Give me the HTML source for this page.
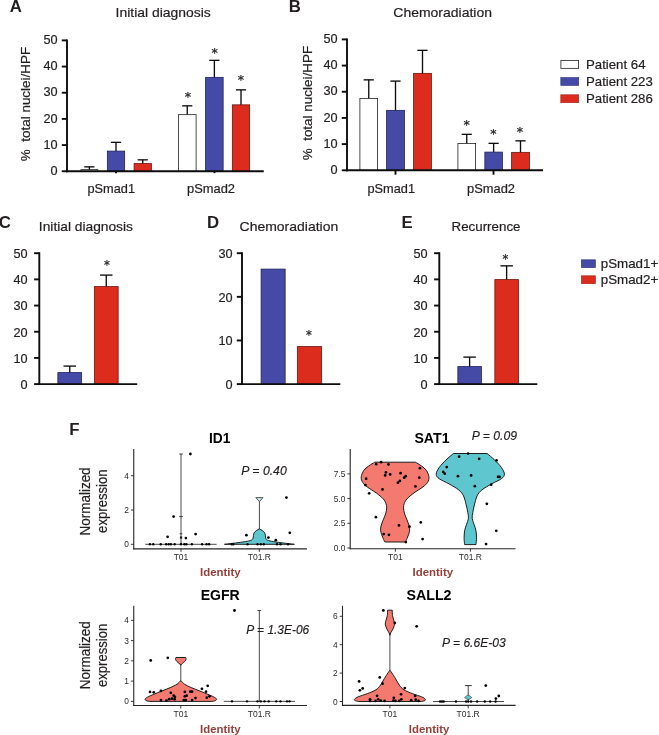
<!DOCTYPE html>
<html><head><meta charset="utf-8"><title>Figure</title>
<style>
html,body{margin:0;padding:0;background:#fff;}
body{width:659px;height:735px;overflow:hidden;}
svg{display:block;font-family:"Liberation Sans",Arial,Helvetica,sans-serif;}
</style></head><body>
<svg width="659" height="735" viewBox="0 0 659 735">
<rect width="659" height="735" fill="#fff"/>
<g fill="#231F20">
<text x="9.7" y="11.7" font-size="16.8" font-weight="bold" fill="#231F20">A</text>
<text x="115.6" y="17.45" font-size="13.6" fill="#231F20" textLength="95.1" lengthAdjust="spacingAndGlyphs" stroke="#231F20" stroke-width="0.2">Initial diagnosis</text>
<text x="29.799999999999997" y="161.25" font-size="12.6" fill="#231F20" textLength="114.5" lengthAdjust="spacingAndGlyphs" transform="rotate(-90 29.799999999999997 161.25)" stroke="#231F20" stroke-width="0.2">%&#160; total nuclei/HPF</text>
<line x1="89.375" y1="166.85" x2="89.375" y2="170.25" stroke="#0d0d0d" stroke-width="1.35" stroke-linecap="butt"/>
<line x1="84.275" y1="166.85" x2="94.475" y2="166.85" stroke="#0d0d0d" stroke-width="1.35" stroke-linecap="butt"/>
<rect x="80.9" y="169.65" width="16.95" height="1.6" fill="#fff" stroke="#222" stroke-width="0.8"/>
<line x1="116.0" y1="142.35" x2="116.0" y2="151.75" stroke="#0d0d0d" stroke-width="1.35" stroke-linecap="butt"/>
<line x1="110.9" y1="142.35" x2="121.1" y2="142.35" stroke="#0d0d0d" stroke-width="1.35" stroke-linecap="butt"/>
<rect x="107.35" y="151.1" width="17.3" height="20.15" fill="#454AA6" stroke="#1f2260" stroke-width="0.8"/>
<line x1="142.75" y1="159.85" x2="142.75" y2="164.25" stroke="#0d0d0d" stroke-width="1.35" stroke-linecap="butt"/>
<line x1="137.65" y1="159.85" x2="147.85" y2="159.85" stroke="#0d0d0d" stroke-width="1.35" stroke-linecap="butt"/>
<rect x="134.1" y="163.6" width="17.3" height="7.65" fill="#DC2C1E" stroke="#6b140c" stroke-width="0.8"/>
<line x1="187.25" y1="105.85" x2="187.25" y2="115.25" stroke="#0d0d0d" stroke-width="1.35" stroke-linecap="butt"/>
<line x1="182.15" y1="105.85" x2="192.35" y2="105.85" stroke="#0d0d0d" stroke-width="1.35" stroke-linecap="butt"/>
<rect x="178.4" y="114.65" width="17.7" height="56.6" fill="#fff" stroke="#222" stroke-width="0.8"/>
<line x1="214.375" y1="60.35" x2="214.375" y2="78" stroke="#0d0d0d" stroke-width="1.35" stroke-linecap="butt"/>
<line x1="209.275" y1="60.35" x2="219.475" y2="60.35" stroke="#0d0d0d" stroke-width="1.35" stroke-linecap="butt"/>
<rect x="205.6" y="77.35" width="17.55" height="93.9" fill="#454AA6" stroke="#1f2260" stroke-width="0.8"/>
<line x1="241.0" y1="89.85" x2="241.0" y2="105.5" stroke="#0d0d0d" stroke-width="1.35" stroke-linecap="butt"/>
<line x1="235.9" y1="89.85" x2="246.1" y2="89.85" stroke="#0d0d0d" stroke-width="1.35" stroke-linecap="butt"/>
<rect x="232.35" y="104.85" width="17.3" height="66.4" fill="#DC2C1E" stroke="#6b140c" stroke-width="0.8"/>
<line x1="67" y1="39.449999999999996" x2="67" y2="172.2" stroke="#0d0d0d" stroke-width="1.9" stroke-linecap="butt"/>
<line x1="61.8" y1="171.25" x2="67" y2="171.25" stroke="#0d0d0d" stroke-width="1.9" stroke-linecap="butt"/>
<text x="57.5" y="174.95" font-size="12.7" text-anchor="end" fill="#231F20" stroke="#231F20" stroke-width="0.2">0</text>
<line x1="61.8" y1="145.07999999999998" x2="67" y2="145.07999999999998" stroke="#0d0d0d" stroke-width="1.9" stroke-linecap="butt"/>
<text x="57.5" y="148.77999999999997" font-size="12.7" text-anchor="end" fill="#231F20" stroke="#231F20" stroke-width="0.2">10</text>
<line x1="61.8" y1="118.91" x2="67" y2="118.91" stroke="#0d0d0d" stroke-width="1.9" stroke-linecap="butt"/>
<text x="57.5" y="122.61" font-size="12.7" text-anchor="end" fill="#231F20" stroke="#231F20" stroke-width="0.2">20</text>
<line x1="61.8" y1="92.74" x2="67" y2="92.74" stroke="#0d0d0d" stroke-width="1.9" stroke-linecap="butt"/>
<text x="57.5" y="96.44" font-size="12.7" text-anchor="end" fill="#231F20" stroke="#231F20" stroke-width="0.2">30</text>
<line x1="61.8" y1="66.57" x2="67" y2="66.57" stroke="#0d0d0d" stroke-width="1.9" stroke-linecap="butt"/>
<text x="57.5" y="70.27" font-size="12.7" text-anchor="end" fill="#231F20" stroke="#231F20" stroke-width="0.2">40</text>
<line x1="61.8" y1="40.400000000000006" x2="67" y2="40.400000000000006" stroke="#0d0d0d" stroke-width="1.9" stroke-linecap="butt"/>
<text x="57.5" y="44.10000000000001" font-size="12.7" text-anchor="end" fill="#231F20" stroke="#231F20" stroke-width="0.2">50</text>
<line x1="66.05" y1="171.25" x2="263.75" y2="171.25" stroke="#0d0d0d" stroke-width="1.9" stroke-linecap="butt"/>
<line x1="116" y1="171.25" x2="116" y2="173.15" stroke="#0d0d0d" stroke-width="1.9" stroke-linecap="butt"/>
<line x1="214.5" y1="171.25" x2="214.5" y2="173.15" stroke="#0d0d0d" stroke-width="1.9" stroke-linecap="butt"/>
<text x="188" y="101.45949999999999" font-size="12.7" text-anchor="middle" font-family="DejaVu Sans, sans-serif" fill="#231F20" stroke="#231F20" stroke-width="0.25">*</text>
<text x="214.75" y="57.2595" font-size="12.7" text-anchor="middle" font-family="DejaVu Sans, sans-serif" fill="#231F20" stroke="#231F20" stroke-width="0.25">*</text>
<text x="240.9" y="84.3595" font-size="12.7" text-anchor="middle" font-family="DejaVu Sans, sans-serif" fill="#231F20" stroke="#231F20" stroke-width="0.25">*</text>
<text x="87.5" y="193" font-size="12.6" fill="#231F20" textLength="47.5" lengthAdjust="spacingAndGlyphs" stroke="#231F20" stroke-width="0.2">pSmad1</text>
<text x="187" y="193" font-size="12.6" fill="#231F20" textLength="48" lengthAdjust="spacingAndGlyphs" stroke="#231F20" stroke-width="0.2">pSmad2</text>
<text x="288.7" y="11.7" font-size="16.8" font-weight="bold" fill="#231F20">B</text>
<text x="393.35" y="17.45" font-size="13.6" fill="#231F20" textLength="98.6" lengthAdjust="spacingAndGlyphs" stroke="#231F20" stroke-width="0.2">Chemoradiation</text>
<text x="312.4" y="160.3" font-size="12.6" fill="#231F20" textLength="114.5" lengthAdjust="spacingAndGlyphs" transform="rotate(-90 312.4 160.3)" stroke="#231F20" stroke-width="0.2">%&#160; total nuclei/HPF</text>
<line x1="368.75" y1="79.85" x2="368.75" y2="99" stroke="#0d0d0d" stroke-width="1.35" stroke-linecap="butt"/>
<line x1="363.65" y1="79.85" x2="373.85" y2="79.85" stroke="#0d0d0d" stroke-width="1.35" stroke-linecap="butt"/>
<rect x="359.9" y="98.4" width="17.7" height="71.9" fill="#fff" stroke="#222" stroke-width="0.8"/>
<line x1="395.5" y1="81.1" x2="395.5" y2="111" stroke="#0d0d0d" stroke-width="1.35" stroke-linecap="butt"/>
<line x1="390.4" y1="81.1" x2="400.6" y2="81.1" stroke="#0d0d0d" stroke-width="1.35" stroke-linecap="butt"/>
<rect x="386.6" y="110.35" width="17.8" height="59.95000000000001" fill="#454AA6" stroke="#1f2260" stroke-width="0.8"/>
<line x1="422.5" y1="50.35" x2="422.5" y2="74" stroke="#0d0d0d" stroke-width="1.35" stroke-linecap="butt"/>
<line x1="417.4" y1="50.35" x2="427.6" y2="50.35" stroke="#0d0d0d" stroke-width="1.35" stroke-linecap="butt"/>
<rect x="413.6" y="73.35" width="17.8" height="96.95000000000002" fill="#DC2C1E" stroke="#6b140c" stroke-width="0.8"/>
<line x1="466.75" y1="134.35" x2="466.75" y2="144" stroke="#0d0d0d" stroke-width="1.35" stroke-linecap="butt"/>
<line x1="461.65" y1="134.35" x2="471.85" y2="134.35" stroke="#0d0d0d" stroke-width="1.35" stroke-linecap="butt"/>
<rect x="457.9" y="143.4" width="17.7" height="26.900000000000013" fill="#fff" stroke="#222" stroke-width="0.8"/>
<line x1="493.625" y1="143.35" x2="493.625" y2="152.75" stroke="#0d0d0d" stroke-width="1.35" stroke-linecap="butt"/>
<line x1="488.525" y1="143.35" x2="498.725" y2="143.35" stroke="#0d0d0d" stroke-width="1.35" stroke-linecap="butt"/>
<rect x="484.85" y="152.1" width="17.55" height="18.20000000000001" fill="#454AA6" stroke="#1f2260" stroke-width="0.8"/>
<line x1="520.5" y1="140.85" x2="520.5" y2="153" stroke="#0d0d0d" stroke-width="1.35" stroke-linecap="butt"/>
<line x1="515.4" y1="140.85" x2="525.6" y2="140.85" stroke="#0d0d0d" stroke-width="1.35" stroke-linecap="butt"/>
<rect x="511.6" y="152.35" width="17.8" height="17.95000000000001" fill="#DC2C1E" stroke="#6b140c" stroke-width="0.8"/>
<line x1="347" y1="38.449999999999996" x2="347" y2="171.25" stroke="#0d0d0d" stroke-width="1.9" stroke-linecap="butt"/>
<line x1="341.8" y1="170.3" x2="347" y2="170.3" stroke="#0d0d0d" stroke-width="1.9" stroke-linecap="butt"/>
<text x="337.5" y="174.0" font-size="12.7" text-anchor="end" fill="#231F20" stroke="#231F20" stroke-width="0.2">0</text>
<line x1="341.8" y1="144.12" x2="347" y2="144.12" stroke="#0d0d0d" stroke-width="1.9" stroke-linecap="butt"/>
<text x="337.5" y="147.82" font-size="12.7" text-anchor="end" fill="#231F20" stroke="#231F20" stroke-width="0.2">10</text>
<line x1="341.8" y1="117.94" x2="347" y2="117.94" stroke="#0d0d0d" stroke-width="1.9" stroke-linecap="butt"/>
<text x="337.5" y="121.64" font-size="12.7" text-anchor="end" fill="#231F20" stroke="#231F20" stroke-width="0.2">20</text>
<line x1="341.8" y1="91.76" x2="347" y2="91.76" stroke="#0d0d0d" stroke-width="1.9" stroke-linecap="butt"/>
<text x="337.5" y="95.46000000000001" font-size="12.7" text-anchor="end" fill="#231F20" stroke="#231F20" stroke-width="0.2">30</text>
<line x1="341.8" y1="65.58" x2="347" y2="65.58" stroke="#0d0d0d" stroke-width="1.9" stroke-linecap="butt"/>
<text x="337.5" y="69.28" font-size="12.7" text-anchor="end" fill="#231F20" stroke="#231F20" stroke-width="0.2">40</text>
<line x1="341.8" y1="39.400000000000006" x2="347" y2="39.400000000000006" stroke="#0d0d0d" stroke-width="1.9" stroke-linecap="butt"/>
<text x="337.5" y="43.10000000000001" font-size="12.7" text-anchor="end" fill="#231F20" stroke="#231F20" stroke-width="0.2">50</text>
<line x1="346.05" y1="170.3" x2="543" y2="170.3" stroke="#0d0d0d" stroke-width="1.9" stroke-linecap="butt"/>
<line x1="395.5" y1="170.3" x2="395.5" y2="174.70000000000002" stroke="#0d0d0d" stroke-width="1.9" stroke-linecap="butt"/>
<line x1="493.5" y1="170.3" x2="493.5" y2="174.70000000000002" stroke="#0d0d0d" stroke-width="1.9" stroke-linecap="butt"/>
<text x="466.6" y="129.1595" font-size="12.7" text-anchor="middle" font-family="DejaVu Sans, sans-serif" fill="#231F20" stroke="#231F20" stroke-width="0.25">*</text>
<text x="493.5" y="137.7595" font-size="12.7" text-anchor="middle" font-family="DejaVu Sans, sans-serif" fill="#231F20" stroke="#231F20" stroke-width="0.25">*</text>
<text x="520" y="135.7595" font-size="12.7" text-anchor="middle" font-family="DejaVu Sans, sans-serif" fill="#231F20" stroke="#231F20" stroke-width="0.25">*</text>
<text x="367.5" y="193" font-size="12.6" fill="#231F20" textLength="47.5" lengthAdjust="spacingAndGlyphs" stroke="#231F20" stroke-width="0.2">pSmad1</text>
<text x="467" y="193" font-size="12.6" fill="#231F20" textLength="48" lengthAdjust="spacingAndGlyphs" stroke="#231F20" stroke-width="0.2">pSmad2</text>
<rect x="560.9" y="60.4" width="17.7" height="7.95" fill="#fff" stroke="#222" stroke-width="0.8"/>
<text x="586" y="69.25" font-size="12.6" fill="#231F20" textLength="59.5" lengthAdjust="spacingAndGlyphs" stroke="#231F20" stroke-width="0.2">Patient 64</text>
<rect x="560.8" y="77.55" width="17.9" height="7.9" fill="#454AA6" stroke="#2E3280" stroke-width="0.6"/>
<text x="586" y="86.25" font-size="12.6" fill="#231F20" textLength="66.75" lengthAdjust="spacingAndGlyphs" stroke="#231F20" stroke-width="0.2">Patient 223</text>
<rect x="560.8" y="94.8" width="17.9" height="7.9" fill="#DC2C1E" stroke="#A81F14" stroke-width="0.6"/>
<text x="586" y="103.25" font-size="12.6" fill="#231F20" textLength="66.75" lengthAdjust="spacingAndGlyphs" stroke="#231F20" stroke-width="0.2">Patient 286</text>
<text x="-1.2" y="227.6" font-size="16.8" font-weight="bold" fill="#231F20">C</text>
<text x="38.85" y="231.2" font-size="13.6" fill="#231F20" textLength="94.1" lengthAdjust="spacingAndGlyphs" stroke="#231F20" stroke-width="0.2">Initial diagnosis</text>
<line x1="69.75" y1="366.1" x2="69.75" y2="373.25" stroke="#0d0d0d" stroke-width="1.35" stroke-linecap="butt"/>
<line x1="63.5" y1="366.1" x2="76.0" y2="366.1" stroke="#0d0d0d" stroke-width="1.35" stroke-linecap="butt"/>
<rect x="57.85" y="372.6" width="23.8" height="11.500000000000023" fill="#454AA6" stroke="#1f2260" stroke-width="0.8"/>
<line x1="106.25" y1="275.1" x2="106.25" y2="287.25" stroke="#0d0d0d" stroke-width="1.35" stroke-linecap="butt"/>
<line x1="100.0" y1="275.1" x2="112.5" y2="275.1" stroke="#0d0d0d" stroke-width="1.35" stroke-linecap="butt"/>
<rect x="94.35" y="286.6" width="23.8" height="97.50000000000003" fill="#DC2C1E" stroke="#6b140c" stroke-width="0.8"/>
<line x1="39.3" y1="252.25" x2="39.3" y2="385.05" stroke="#0d0d0d" stroke-width="1.9" stroke-linecap="butt"/>
<line x1="34.099999999999994" y1="384.1" x2="39.3" y2="384.1" stroke="#0d0d0d" stroke-width="1.9" stroke-linecap="butt"/>
<text x="27.599999999999998" y="388.90000000000003" font-size="12.7" text-anchor="end" fill="#231F20" stroke="#231F20" stroke-width="0.2">0</text>
<line x1="34.099999999999994" y1="357.92" x2="39.3" y2="357.92" stroke="#0d0d0d" stroke-width="1.9" stroke-linecap="butt"/>
<text x="27.599999999999998" y="362.72" font-size="12.7" text-anchor="end" fill="#231F20" stroke="#231F20" stroke-width="0.2">10</text>
<line x1="34.099999999999994" y1="331.74" x2="39.3" y2="331.74" stroke="#0d0d0d" stroke-width="1.9" stroke-linecap="butt"/>
<text x="27.599999999999998" y="336.54" font-size="12.7" text-anchor="end" fill="#231F20" stroke="#231F20" stroke-width="0.2">20</text>
<line x1="34.099999999999994" y1="305.56" x2="39.3" y2="305.56" stroke="#0d0d0d" stroke-width="1.9" stroke-linecap="butt"/>
<text x="27.599999999999998" y="310.36" font-size="12.7" text-anchor="end" fill="#231F20" stroke="#231F20" stroke-width="0.2">30</text>
<line x1="34.099999999999994" y1="279.38" x2="39.3" y2="279.38" stroke="#0d0d0d" stroke-width="1.9" stroke-linecap="butt"/>
<text x="27.599999999999998" y="284.18" font-size="12.7" text-anchor="end" fill="#231F20" stroke="#231F20" stroke-width="0.2">40</text>
<line x1="34.099999999999994" y1="253.2" x2="39.3" y2="253.2" stroke="#0d0d0d" stroke-width="1.9" stroke-linecap="butt"/>
<text x="27.599999999999998" y="258.0" font-size="12.7" text-anchor="end" fill="#231F20" stroke="#231F20" stroke-width="0.2">50</text>
<line x1="38.349999999999994" y1="384.1" x2="137.2" y2="384.1" stroke="#0d0d0d" stroke-width="1.9" stroke-linecap="butt"/>
<text x="107" y="269.126" font-size="11.6" text-anchor="middle" font-family="DejaVu Sans, sans-serif" fill="#231F20" stroke="#231F20" stroke-width="0.25">*</text>
<text x="207" y="227.6" font-size="16.8" font-weight="bold" fill="#231F20">D</text>
<text x="239.6" y="231.2" font-size="13.6" fill="#231F20" textLength="98.6" lengthAdjust="spacingAndGlyphs" stroke="#231F20" stroke-width="0.2">Chemoradiation</text>
<rect x="261.1" y="269.1" width="24.05" height="115.00000000000003" fill="#454AA6" stroke="#1f2260" stroke-width="0.8"/>
<rect x="297.35" y="346.6" width="24.3" height="37.50000000000002" fill="#DC2C1E" stroke="#6b140c" stroke-width="0.8"/>
<line x1="242" y1="252.25" x2="242" y2="385.05" stroke="#0d0d0d" stroke-width="1.9" stroke-linecap="butt"/>
<line x1="236.8" y1="384.1" x2="242" y2="384.1" stroke="#0d0d0d" stroke-width="1.9" stroke-linecap="butt"/>
<text x="232.6" y="388.90000000000003" font-size="12.7" text-anchor="end" fill="#231F20" stroke="#231F20" stroke-width="0.2">0</text>
<line x1="236.8" y1="340.4666666666667" x2="242" y2="340.4666666666667" stroke="#0d0d0d" stroke-width="1.9" stroke-linecap="butt"/>
<text x="232.6" y="345.2666666666667" font-size="12.7" text-anchor="end" fill="#231F20" stroke="#231F20" stroke-width="0.2">10</text>
<line x1="236.8" y1="296.83333333333337" x2="242" y2="296.83333333333337" stroke="#0d0d0d" stroke-width="1.9" stroke-linecap="butt"/>
<text x="232.6" y="301.6333333333334" font-size="12.7" text-anchor="end" fill="#231F20" stroke="#231F20" stroke-width="0.2">20</text>
<line x1="236.8" y1="253.2" x2="242" y2="253.2" stroke="#0d0d0d" stroke-width="1.9" stroke-linecap="butt"/>
<text x="232.6" y="258.0" font-size="12.7" text-anchor="end" fill="#231F20" stroke="#231F20" stroke-width="0.2">30</text>
<line x1="241.05" y1="384.1" x2="340.3" y2="384.1" stroke="#0d0d0d" stroke-width="1.9" stroke-linecap="butt"/>
<text x="309" y="339.426" font-size="11.6" text-anchor="middle" font-family="DejaVu Sans, sans-serif" fill="#231F20" stroke="#231F20" stroke-width="0.25">*</text>
<text x="401.5" y="227.6" font-size="16.8" font-weight="bold" fill="#231F20">E</text>
<text x="451.6" y="231.2" font-size="13.6" fill="#231F20" textLength="68.85" lengthAdjust="spacingAndGlyphs" stroke="#231F20" stroke-width="0.2">Recurrence</text>
<line x1="469.625" y1="357.1" x2="469.625" y2="367.25" stroke="#0d0d0d" stroke-width="1.35" stroke-linecap="butt"/>
<line x1="463.375" y1="357.1" x2="475.875" y2="357.1" stroke="#0d0d0d" stroke-width="1.35" stroke-linecap="butt"/>
<rect x="457.85" y="366.6" width="23.55" height="17.50000000000002" fill="#454AA6" stroke="#1f2260" stroke-width="0.8"/>
<line x1="506.625" y1="265.85" x2="506.625" y2="280.25" stroke="#0d0d0d" stroke-width="1.35" stroke-linecap="butt"/>
<line x1="500.375" y1="265.85" x2="512.875" y2="265.85" stroke="#0d0d0d" stroke-width="1.35" stroke-linecap="butt"/>
<rect x="494.85" y="279.6" width="23.55" height="104.50000000000003" fill="#DC2C1E" stroke="#6b140c" stroke-width="0.8"/>
<line x1="439.3" y1="252.25" x2="439.3" y2="385.05" stroke="#0d0d0d" stroke-width="1.9" stroke-linecap="butt"/>
<line x1="434.1" y1="384.1" x2="439.3" y2="384.1" stroke="#0d0d0d" stroke-width="1.9" stroke-linecap="butt"/>
<text x="427.6" y="388.90000000000003" font-size="12.7" text-anchor="end" fill="#231F20" stroke="#231F20" stroke-width="0.2">0</text>
<line x1="434.1" y1="357.92" x2="439.3" y2="357.92" stroke="#0d0d0d" stroke-width="1.9" stroke-linecap="butt"/>
<text x="427.6" y="362.72" font-size="12.7" text-anchor="end" fill="#231F20" stroke="#231F20" stroke-width="0.2">10</text>
<line x1="434.1" y1="331.74" x2="439.3" y2="331.74" stroke="#0d0d0d" stroke-width="1.9" stroke-linecap="butt"/>
<text x="427.6" y="336.54" font-size="12.7" text-anchor="end" fill="#231F20" stroke="#231F20" stroke-width="0.2">20</text>
<line x1="434.1" y1="305.56" x2="439.3" y2="305.56" stroke="#0d0d0d" stroke-width="1.9" stroke-linecap="butt"/>
<text x="427.6" y="310.36" font-size="12.7" text-anchor="end" fill="#231F20" stroke="#231F20" stroke-width="0.2">30</text>
<line x1="434.1" y1="279.38" x2="439.3" y2="279.38" stroke="#0d0d0d" stroke-width="1.9" stroke-linecap="butt"/>
<text x="427.6" y="284.18" font-size="12.7" text-anchor="end" fill="#231F20" stroke="#231F20" stroke-width="0.2">40</text>
<line x1="434.1" y1="253.2" x2="439.3" y2="253.2" stroke="#0d0d0d" stroke-width="1.9" stroke-linecap="butt"/>
<text x="427.6" y="258.0" font-size="12.7" text-anchor="end" fill="#231F20" stroke="#231F20" stroke-width="0.2">50</text>
<line x1="438.35" y1="384.1" x2="537.3" y2="384.1" stroke="#0d0d0d" stroke-width="1.9" stroke-linecap="butt"/>
<text x="505.5" y="262.926" font-size="11.6" text-anchor="middle" font-family="DejaVu Sans, sans-serif" fill="#231F20" stroke="#231F20" stroke-width="0.25">*</text>
<rect x="581.3" y="259.8" width="14.15" height="7.9" fill="#454AA6" stroke="#2E3280" stroke-width="0.6"/>
<text x="600.75" y="268" font-size="12.6" fill="#231F20" textLength="57.5" lengthAdjust="spacingAndGlyphs" stroke="#231F20" stroke-width="0.2">pSmad1+</text>
<rect x="581.3" y="275.8" width="14.15" height="7.9" fill="#DC2C1E" stroke="#A81F14" stroke-width="0.6"/>
<text x="600.75" y="283.75" font-size="12.6" fill="#231F20" textLength="57.5" lengthAdjust="spacingAndGlyphs" stroke="#231F20" stroke-width="0.2">pSmad2+</text>
<text x="69.3" y="434.6" font-size="16.8" font-weight="bold" fill="#231F20">F</text>
<text x="89.8" y="535.4" font-size="14" fill="#231F20" textLength="68" lengthAdjust="spacingAndGlyphs" transform="rotate(-90 89.8 535.4)" stroke="#231F20" stroke-width="0.2">Normalized</text>
<text x="106.9" y="532.9" font-size="14" fill="#231F20" textLength="63.5" lengthAdjust="spacingAndGlyphs" transform="rotate(-90 106.9 532.9)" stroke="#231F20" stroke-width="0.2">expression</text>
<line x1="133.75" y1="448.9" x2="133.75" y2="549.4499999999999" stroke="#262626" stroke-width="1.1" stroke-linecap="butt"/>
<line x1="133.2" y1="548.9" x2="307" y2="548.9" stroke="#262626" stroke-width="1.1" stroke-linecap="butt"/>
<line x1="130.95" y1="544.3" x2="133.75" y2="544.3" stroke="#262626" stroke-width="0.9" stroke-linecap="butt"/>
<text x="128.85" y="547.3" font-size="8.4" text-anchor="end" fill="#2b2b2b">0</text>
<line x1="130.95" y1="509.99999999999994" x2="133.75" y2="509.99999999999994" stroke="#262626" stroke-width="0.9" stroke-linecap="butt"/>
<text x="128.85" y="513.0" font-size="8.4" text-anchor="end" fill="#2b2b2b">2</text>
<line x1="130.95" y1="475.69999999999993" x2="133.75" y2="475.69999999999993" stroke="#262626" stroke-width="0.9" stroke-linecap="butt"/>
<text x="128.85" y="478.69999999999993" font-size="8.4" text-anchor="end" fill="#2b2b2b">4</text>
<line x1="181" y1="548.9" x2="181" y2="551.9" stroke="#262626" stroke-width="0.9" stroke-linecap="butt"/>
<text x="181" y="560.0" font-size="8.5" text-anchor="middle" fill="#2b2b2b">T01</text>
<line x1="259.3" y1="548.9" x2="259.3" y2="551.9" stroke="#262626" stroke-width="0.9" stroke-linecap="butt"/>
<text x="259.3" y="560.0" font-size="8.5" text-anchor="middle" fill="#2b2b2b">T01.R</text>
<text x="208.9" y="442.95" font-size="14.6" font-weight="bold" fill="#000" textLength="21.4" lengthAdjust="spacingAndGlyphs">ID1</text>
<text x="200" y="575.7" font-size="11.7" font-weight="bold" fill="#97403A" textLength="40.6" lengthAdjust="spacingAndGlyphs">Identity</text>
<line x1="145.2" y1="544.3" x2="216.6" y2="544.3" stroke="#1c1c1c" stroke-width="0.8" stroke-linecap="butt"/>
<line x1="181" y1="454" x2="181" y2="544.3" stroke="#1c1c1c" stroke-width="0.8" stroke-linecap="butt"/>
<line x1="179.2" y1="454" x2="182.8" y2="454" stroke="#1c1c1c" stroke-width="0.8" stroke-linecap="butt"/>
<line x1="179.2" y1="516.6" x2="182.8" y2="516.6" stroke="#1c1c1c" stroke-width="0.8" stroke-linecap="butt"/>
<line x1="179.6" y1="533.8" x2="182.4" y2="533.8" stroke="#1c1c1c" stroke-width="0.8" stroke-linecap="butt"/>
<line x1="259.4" y1="501.5" x2="259.4" y2="529.5" stroke="#1c1c1c" stroke-width="0.8" stroke-linecap="butt"/>
<path d="M255.79999999999998,497.6 L263.0,497.6 L259.4,501.7 Z" fill="#BFE6EA" stroke="#1c1c1c" stroke-width="0.7" stroke-linejoin="round"/>
<path d="M259.20,529.00 C258.73,529.27 257.23,529.97 256.40,530.60 C255.57,531.23 254.70,531.98 254.20,532.80 C253.70,533.62 253.60,534.58 253.40,535.50 C253.20,536.42 253.37,537.52 253.00,538.30 C252.63,539.08 252.47,539.65 251.20,540.20 C249.93,540.75 248.03,541.13 245.40,541.60 C242.77,542.07 238.40,542.60 235.40,543.00 C232.40,543.40 229.23,543.78 227.40,544.00 C225.57,544.22 224.90,544.25 224.40,544.30 L294.40,544.30 C293.90,544.25 293.23,544.22 291.40,544.00 C289.57,543.78 286.40,543.40 283.40,543.00 C280.40,542.60 276.03,542.07 273.40,541.60 C270.77,541.13 268.87,540.75 267.60,540.20 C266.33,539.65 266.17,539.08 265.80,538.30 C265.43,537.52 265.60,536.42 265.40,535.50 C265.20,534.58 265.10,533.62 264.60,532.80 C264.10,531.98 263.23,531.23 262.40,530.60 C261.57,529.97 260.07,529.27 259.60,529.00 Z" fill="#5EC6CF" fill-opacity="1" stroke="#141414" stroke-width="0.95" stroke-linejoin="round"/>
<circle cx="190.4" cy="454" r="1.38" fill="#000"/>
<circle cx="173.6" cy="516.6" r="1.38" fill="#000"/>
<circle cx="167.6" cy="536.8" r="1.38" fill="#000"/>
<circle cx="195.6" cy="534.1" r="1.38" fill="#000"/>
<circle cx="185.9" cy="538.1" r="1.38" fill="#000"/>
<rect x="179.9" y="536.4" width="2.3" height="2.3" fill="#222"/>
<circle cx="149.97005988023952" cy="544.3" r="1.2" fill="#000"/>
<circle cx="153.26347305389223" cy="544.3" r="1.2" fill="#000"/>
<circle cx="160.74850299401197" cy="544.3" r="1.2" fill="#000"/>
<circle cx="166.1377245508982" cy="544.3" r="1.2" fill="#000"/>
<circle cx="168.68263473053892" cy="544.3" r="1.2" fill="#000"/>
<circle cx="170.92814371257487" cy="544.3" r="1.2" fill="#000"/>
<circle cx="174.67065868263472" cy="544.3" r="1.2" fill="#000"/>
<circle cx="180.95808383233532" cy="544.3" r="1.2" fill="#000"/>
<circle cx="184.4011976047904" cy="544.3" r="1.2" fill="#000"/>
<circle cx="186.34730538922156" cy="544.3" r="1.2" fill="#000"/>
<circle cx="191.88622754491018" cy="544.3" r="1.2" fill="#000"/>
<circle cx="202.06586826347308" cy="544.3" r="1.2" fill="#000"/>
<circle cx="206.5568862275449" cy="544.3" r="1.2" fill="#000"/>
<circle cx="209.10179640718565" cy="544.3" r="1.2" fill="#000"/>
<circle cx="286.4" cy="497.6" r="1.38" fill="#000"/>
<circle cx="246.4" cy="535.2" r="1.38" fill="#000"/>
<circle cx="289.8" cy="532.8" r="1.38" fill="#000"/>
<circle cx="268.4" cy="537.6" r="1.38" fill="#000"/>
<circle cx="275.8" cy="540.2" r="1.38" fill="#000"/>
<circle cx="231.75" cy="544.3" r="1.2" fill="#000"/>
<circle cx="233.25" cy="544.3" r="1.2" fill="#000"/>
<circle cx="247.5" cy="544.3" r="1.2" fill="#000"/>
<circle cx="257.5" cy="544.3" r="1.2" fill="#000"/>
<circle cx="260.75" cy="544.3" r="1.2" fill="#000"/>
<circle cx="263.75" cy="544.3" r="1.2" fill="#000"/>
<circle cx="277.0" cy="544.3" r="1.2" fill="#000"/>
<circle cx="280.5" cy="544.3" r="1.2" fill="#000"/>
<circle cx="288.0" cy="544.3" r="1.2" fill="#000"/>
<text x="241.25" y="474.95" font-size="13.7" font-style="italic" fill="#231F20" textLength="45.5" lengthAdjust="spacingAndGlyphs" stroke="#231F20" stroke-width="0.18">P = 0.40</text>
<line x1="350.2" y1="448.9" x2="350.2" y2="549.25" stroke="#262626" stroke-width="1.1" stroke-linecap="butt"/>
<line x1="349.65" y1="548.7" x2="515.5" y2="548.7" stroke="#262626" stroke-width="1.1" stroke-linecap="butt"/>
<line x1="347.4" y1="548.0" x2="350.2" y2="548.0" stroke="#262626" stroke-width="0.9" stroke-linecap="butt"/>
<text x="345.3" y="551.0" font-size="8.4" text-anchor="end" fill="#2b2b2b">0.0</text>
<line x1="347.4" y1="523.3" x2="350.2" y2="523.3" stroke="#262626" stroke-width="0.9" stroke-linecap="butt"/>
<text x="345.3" y="526.3" font-size="8.4" text-anchor="end" fill="#2b2b2b">2.5</text>
<line x1="347.4" y1="498.6" x2="350.2" y2="498.6" stroke="#262626" stroke-width="0.9" stroke-linecap="butt"/>
<text x="345.3" y="501.6" font-size="8.4" text-anchor="end" fill="#2b2b2b">5.0</text>
<line x1="347.4" y1="473.9" x2="350.2" y2="473.9" stroke="#262626" stroke-width="0.9" stroke-linecap="butt"/>
<text x="345.3" y="476.9" font-size="8.4" text-anchor="end" fill="#2b2b2b">7.5</text>
<line x1="395.4" y1="548.7" x2="395.4" y2="551.7" stroke="#262626" stroke-width="0.9" stroke-linecap="butt"/>
<text x="395.4" y="559.8000000000001" font-size="8.5" text-anchor="middle" fill="#2b2b2b">T01</text>
<line x1="470.4" y1="548.7" x2="470.4" y2="551.7" stroke="#262626" stroke-width="0.9" stroke-linecap="butt"/>
<text x="470.4" y="559.8000000000001" font-size="8.5" text-anchor="middle" fill="#2b2b2b">T01.R</text>
<text x="414.4" y="442.95" font-size="14.6" font-weight="bold" fill="#000" textLength="35.15" lengthAdjust="spacingAndGlyphs">SAT1</text>
<text x="412.5" y="575.7" font-size="11.7" font-weight="bold" fill="#97403A" textLength="40.6" lengthAdjust="spacingAndGlyphs">Identity</text>
<path d="M374.70,462.20 C373.70,462.83 370.52,464.63 368.70,466.00 C366.88,467.37 365.05,468.53 363.80,470.40 C362.55,472.27 361.38,475.20 361.20,477.20 C361.02,479.20 361.70,480.78 362.70,482.40 C363.70,484.02 364.95,485.15 367.20,486.90 C369.45,488.65 373.53,490.90 376.20,492.90 C378.87,494.90 381.58,497.15 383.20,498.90 C384.82,500.65 385.32,501.90 385.90,503.40 C386.48,504.90 386.75,506.15 386.70,507.90 C386.65,509.65 386.18,511.90 385.60,513.90 C385.02,515.90 383.95,517.92 383.20,519.90 C382.45,521.88 381.53,524.07 381.10,525.80 C380.67,527.53 380.50,528.80 380.60,530.30 C380.70,531.80 381.27,533.42 381.70,534.80 C382.13,536.18 382.68,537.40 383.20,538.60 C383.72,539.80 384.53,541.43 384.80,542.00 L405.40,542.00 C405.67,541.43 406.48,539.80 407.00,538.60 C407.52,537.40 408.07,536.18 408.50,534.80 C408.93,533.42 409.50,531.80 409.60,530.30 C409.70,528.80 409.53,527.53 409.10,525.80 C408.67,524.07 407.75,521.88 407.00,519.90 C406.25,517.92 405.18,515.90 404.60,513.90 C404.02,511.90 403.55,509.65 403.50,507.90 C403.45,506.15 403.72,504.90 404.30,503.40 C404.88,501.90 405.38,500.65 407.00,498.90 C408.62,497.15 411.33,494.90 414.00,492.90 C416.67,490.90 420.75,488.65 423.00,486.90 C425.25,485.15 426.50,484.02 427.50,482.40 C428.50,480.78 429.18,479.20 429.00,477.20 C428.82,475.20 427.65,472.27 426.40,470.40 C425.15,468.53 423.32,467.37 421.50,466.00 C419.68,464.63 416.50,462.83 415.50,462.20 Z" fill="#F47A70" fill-opacity="1" stroke="#141414" stroke-width="0.95" stroke-linejoin="round"/>
<path d="M453.40,453.50 C452.17,454.58 448.37,457.67 446.00,460.00 C443.63,462.33 440.83,465.13 439.20,467.50 C437.57,469.87 436.20,472.33 436.20,474.20 C436.20,476.07 437.07,477.08 439.20,478.70 C441.33,480.32 445.75,482.03 449.00,483.90 C452.25,485.77 456.28,487.90 458.70,489.90 C461.12,491.90 462.25,493.40 463.50,495.90 C464.75,498.40 465.48,502.15 466.20,504.90 C466.92,507.65 467.43,510.15 467.80,512.40 C468.17,514.65 468.60,516.42 468.40,518.40 C468.20,520.38 467.22,522.32 466.60,524.30 C465.98,526.28 465.12,528.05 464.70,530.30 C464.28,532.55 464.12,535.42 464.10,537.80 C464.08,540.18 464.52,543.47 464.60,544.60 L476.00,544.60 C476.08,543.47 476.52,540.18 476.50,537.80 C476.48,535.42 476.32,532.55 475.90,530.30 C475.48,528.05 474.62,526.28 474.00,524.30 C473.38,522.32 472.40,520.38 472.20,518.40 C472.00,516.42 472.43,514.65 472.80,512.40 C473.17,510.15 473.68,507.65 474.40,504.90 C475.12,502.15 475.85,498.40 477.10,495.90 C478.35,493.40 479.48,491.90 481.90,489.90 C484.32,487.90 488.35,485.77 491.60,483.90 C494.85,482.03 499.27,480.32 501.40,478.70 C503.53,477.08 504.40,476.07 504.40,474.20 C504.40,472.33 503.03,469.87 501.40,467.50 C499.77,465.13 496.97,462.33 494.60,460.00 C492.23,457.67 488.43,454.58 487.20,453.50 Z" fill="#5EC6CF" fill-opacity="1" stroke="#141414" stroke-width="0.95" stroke-linejoin="round"/>
<circle cx="376.1976047904192" cy="464.1616766467066" r="1.38" fill="#000"/>
<circle cx="381.1377245508982" cy="462.21556886227546" r="1.38" fill="#000"/>
<circle cx="388.47305389221555" cy="464.4610778443114" r="1.38" fill="#000"/>
<circle cx="419.9101796407186" cy="468.20359281437123" r="1.38" fill="#000"/>
<circle cx="385.92814371257487" cy="472.39520958083835" r="1.38" fill="#000"/>
<circle cx="385.1796407185629" cy="475.38922155688624" r="1.38" fill="#000"/>
<circle cx="390.11976047904193" cy="474.49101796407183" r="1.38" fill="#000"/>
<circle cx="400.5988023952096" cy="473.1437125748503" r="1.38" fill="#000"/>
<circle cx="405.688622754491" cy="476.1377245508982" r="1.38" fill="#000"/>
<circle cx="404.19161676646706" cy="477.63473053892216" r="1.38" fill="#000"/>
<circle cx="399.8502994011976" cy="480.92814371257487" r="1.38" fill="#000"/>
<circle cx="397.90419161676647" cy="482.7245508982036" r="1.38" fill="#000"/>
<circle cx="366.16766467065867" cy="478.6826347305389" r="1.38" fill="#000"/>
<circle cx="419.311377245509" cy="477.63473053892216" r="1.38" fill="#000"/>
<circle cx="365.4191616766467" cy="485.11976047904193" r="1.38" fill="#000"/>
<circle cx="415.4191616766467" cy="486.4670658682635" r="1.38" fill="#000"/>
<circle cx="382.4850299401198" cy="489.4610778443114" r="1.38" fill="#000"/>
<circle cx="369.1616766467066" cy="493.3532934131737" r="1.38" fill="#000"/>
<circle cx="375.89820359281435" cy="517.1556886227545" r="1.38" fill="#000"/>
<circle cx="398.9520958083832" cy="525.3892215568862" r="1.38" fill="#000"/>
<circle cx="409.4311377245509" cy="526.7365269461078" r="1.38" fill="#000"/>
<circle cx="420.80838323353294" cy="522.3952095808384" r="1.38" fill="#000"/>
<circle cx="383.6826347305389" cy="534.0718562874251" r="1.38" fill="#000"/>
<circle cx="388.92215568862275" cy="534.8203592814372" r="1.38" fill="#000"/>
<circle cx="405.8383233532934" cy="542.0059880239521" r="1.38" fill="#000"/>
<circle cx="422.60479041916165" cy="539.0119760479042" r="1.38" fill="#000"/>
<circle cx="468.1137724550898" cy="453.5329341317365" r="1.38" fill="#000"/>
<circle cx="459.1317365269461" cy="456.67664670658684" r="1.38" fill="#000"/>
<circle cx="479.19161676646706" cy="458.77245508982037" r="1.38" fill="#000"/>
<circle cx="496.5568862275449" cy="460.4191616766467" r="1.38" fill="#000"/>
<circle cx="446.7065868263473" cy="467.0059880239521" r="1.38" fill="#000"/>
<circle cx="443.2634730538922" cy="471.94610778443115" r="1.38" fill="#000"/>
<circle cx="444.76047904191614" cy="473.74251497005986" r="1.38" fill="#000"/>
<circle cx="457.934131736527" cy="476.1377245508982" r="1.38" fill="#000"/>
<circle cx="471.1077844311377" cy="475.38922155688624" r="1.38" fill="#000"/>
<circle cx="498.05389221556885" cy="476.8862275449102" r="1.38" fill="#000"/>
<circle cx="499.55089820359285" cy="476.8862275449102" r="1.38" fill="#000"/>
<circle cx="474.8502994011976" cy="486.16766467065867" r="1.38" fill="#000"/>
<circle cx="491.16766467065867" cy="484.6706586826347" r="1.38" fill="#000"/>
<circle cx="486.8263473053892" cy="503.83233532934133" r="1.38" fill="#000"/>
<circle cx="496.25748502994014" cy="530.7784431137725" r="1.38" fill="#000"/>
<circle cx="486.07784431137725" cy="544.1017964071856" r="1.38" fill="#000"/>
<text x="471.75" y="440.2" font-size="13.7" font-style="italic" fill="#231F20" textLength="45.25" lengthAdjust="spacingAndGlyphs" stroke="#231F20" stroke-width="0.18">P = 0.09</text>
<text x="89.8" y="689.2" font-size="14" fill="#231F20" textLength="68" lengthAdjust="spacingAndGlyphs" transform="rotate(-90 89.8 689.2)" stroke="#231F20" stroke-width="0.2">Normalized</text>
<text x="106.9" y="687.1" font-size="14" fill="#231F20" textLength="63.5" lengthAdjust="spacingAndGlyphs" transform="rotate(-90 106.9 687.1)" stroke="#231F20" stroke-width="0.2">expression</text>
<line x1="133.75" y1="605.75" x2="133.75" y2="706.05" stroke="#262626" stroke-width="1.1" stroke-linecap="butt"/>
<line x1="133.2" y1="705.5" x2="307" y2="705.5" stroke="#262626" stroke-width="1.1" stroke-linecap="butt"/>
<line x1="130.95" y1="701.35" x2="133.75" y2="701.35" stroke="#262626" stroke-width="0.9" stroke-linecap="butt"/>
<text x="128.85" y="704.35" font-size="8.4" text-anchor="end" fill="#2b2b2b">0</text>
<line x1="130.95" y1="681.1" x2="133.75" y2="681.1" stroke="#262626" stroke-width="0.9" stroke-linecap="butt"/>
<text x="128.85" y="684.1" font-size="8.4" text-anchor="end" fill="#2b2b2b">1</text>
<line x1="130.95" y1="660.85" x2="133.75" y2="660.85" stroke="#262626" stroke-width="0.9" stroke-linecap="butt"/>
<text x="128.85" y="663.85" font-size="8.4" text-anchor="end" fill="#2b2b2b">2</text>
<line x1="130.95" y1="640.6" x2="133.75" y2="640.6" stroke="#262626" stroke-width="0.9" stroke-linecap="butt"/>
<text x="128.85" y="643.6" font-size="8.4" text-anchor="end" fill="#2b2b2b">3</text>
<line x1="130.95" y1="620.35" x2="133.75" y2="620.35" stroke="#262626" stroke-width="0.9" stroke-linecap="butt"/>
<text x="128.85" y="623.35" font-size="8.4" text-anchor="end" fill="#2b2b2b">4</text>
<line x1="180.8" y1="705.5" x2="180.8" y2="708.5" stroke="#262626" stroke-width="0.9" stroke-linecap="butt"/>
<text x="180.8" y="716.6" font-size="8.5" text-anchor="middle" fill="#2b2b2b">T01</text>
<line x1="259.3" y1="705.5" x2="259.3" y2="708.5" stroke="#262626" stroke-width="0.9" stroke-linecap="butt"/>
<text x="259.3" y="716.6" font-size="8.5" text-anchor="middle" fill="#2b2b2b">T01.R</text>
<text x="200.65" y="600.2" font-size="14.6" font-weight="bold" fill="#000" textLength="39.15" lengthAdjust="spacingAndGlyphs">EGFR</text>
<text x="200" y="732.7" font-size="11.7" font-weight="bold" fill="#97403A" textLength="40.6" lengthAdjust="spacingAndGlyphs">Identity</text>
<line x1="180.8" y1="664" x2="180.8" y2="681.5" stroke="#1c1c1c" stroke-width="0.8" stroke-linecap="butt"/>
<path d="M175.90,657.50 C175.84,657.68 175.53,658.12 175.55,658.60 C175.57,659.08 175.61,659.77 176.00,660.40 C176.39,661.03 177.25,661.80 177.90,662.40 C178.55,663.00 179.44,663.53 179.90,664.00 C180.36,664.47 180.53,665.00 180.65,665.20 L180.95,665.20 C181.08,665.00 181.24,664.47 181.70,664.00 C182.16,663.53 183.05,663.00 183.70,662.40 C184.35,661.80 185.21,661.03 185.60,660.40 C185.99,659.77 186.03,659.08 186.05,658.60 C186.07,658.12 185.76,657.68 185.70,657.50 Z" fill="#F47A70" fill-opacity="1" stroke="#141414" stroke-width="0.95" stroke-linejoin="round"/>
<path d="M180.60,680.80 C180.00,681.37 178.72,683.07 177.00,684.20 C175.28,685.33 172.83,686.47 170.30,687.60 C167.77,688.73 164.55,689.88 161.80,691.00 C159.05,692.12 156.07,693.33 153.80,694.30 C151.53,695.27 149.53,696.15 148.20,696.80 C146.87,697.45 146.32,697.78 145.80,698.20 C145.28,698.62 145.15,698.97 145.10,699.30 C145.05,699.63 145.18,699.93 145.50,700.20 C145.82,700.47 146.28,700.70 147.00,700.90 C147.72,701.10 149.33,701.32 149.80,701.40 L211.80,701.40 C212.27,701.32 213.88,701.10 214.60,700.90 C215.32,700.70 215.78,700.47 216.10,700.20 C216.42,699.93 216.55,699.63 216.50,699.30 C216.45,698.97 216.32,698.62 215.80,698.20 C215.28,697.78 214.73,697.45 213.40,696.80 C212.07,696.15 210.07,695.27 207.80,694.30 C205.53,693.33 202.55,692.12 199.80,691.00 C197.05,689.88 193.83,688.73 191.30,687.60 C188.77,686.47 186.32,685.33 184.60,684.20 C182.88,683.07 181.60,681.37 181.00,680.80 Z" fill="#F47A70" fill-opacity="1" stroke="#141414" stroke-width="0.95" stroke-linejoin="round"/>
<circle cx="150.71038251366122" cy="660.4918032786885" r="1.38" fill="#000"/>
<circle cx="167.78688524590163" cy="657.75956284153" r="1.38" fill="#000"/>
<circle cx="207.6775956284153" cy="685.7650273224044" r="1.38" fill="#000"/>
<circle cx="201.9398907103825" cy="688.7704918032787" r="1.38" fill="#000"/>
<circle cx="150.02732240437157" cy="691.9125683060109" r="1.38" fill="#000"/>
<circle cx="153.71584699453553" cy="692.3224043715848" r="1.38" fill="#000"/>
<circle cx="160.95628415300547" cy="690.9562841530054" r="1.38" fill="#000"/>
<circle cx="206.03825136612022" cy="691.639344262295" r="1.38" fill="#000"/>
<circle cx="170.79234972677597" cy="692.8688524590164" r="1.38" fill="#000"/>
<circle cx="184.86338797814207" cy="691.9125683060109" r="1.38" fill="#000"/>
<circle cx="190.327868852459" cy="691.639344262295" r="1.38" fill="#000"/>
<circle cx="192.10382513661202" cy="691.639344262295" r="1.38" fill="#000"/>
<circle cx="173.66120218579235" cy="695.7377049180328" r="1.38" fill="#000"/>
<circle cx="174.89071038251365" cy="696.9672131147541" r="1.38" fill="#000"/>
<circle cx="184.86338797814207" cy="696.2841530054645" r="1.38" fill="#000"/>
<circle cx="186.63934426229508" cy="695.7377049180328" r="1.38" fill="#000"/>
<circle cx="209.4535519125683" cy="696.2841530054645" r="1.38" fill="#000"/>
<circle cx="206.72131147540983" cy="697.6502732240438" r="1.38" fill="#000"/>
<circle cx="195.5191256830601" cy="698.0601092896175" r="1.38" fill="#000"/>
<circle cx="171.88524590163934" cy="698.7431693989071" r="1.38" fill="#000"/>
<circle cx="169.15300546448088" cy="699.1530054644809" r="1.38" fill="#000"/>
<circle cx="166.4207650273224" cy="700.5191256830601" r="1.38" fill="#000"/>
<circle cx="160.95628415300547" cy="700.1092896174863" r="1.38" fill="#000"/>
<circle cx="174.61748633879782" cy="699.1530054644809" r="1.38" fill="#000"/>
<circle cx="183.77049180327867" cy="700.1092896174863" r="1.38" fill="#000"/>
<circle cx="185.81967213114754" cy="700.1092896174863" r="1.38" fill="#000"/>
<circle cx="192.10382513661202" cy="700.1092896174863" r="1.38" fill="#000"/>
<line x1="223.75" y1="701.35" x2="295" y2="701.35" stroke="#1c1c1c" stroke-width="0.8" stroke-linecap="butt"/>
<line x1="259.3" y1="610.5" x2="259.3" y2="701.35" stroke="#1c1c1c" stroke-width="0.8" stroke-linecap="butt"/>
<line x1="257.5" y1="610.5" x2="261.1" y2="610.5" stroke="#1c1c1c" stroke-width="0.8" stroke-linecap="butt"/>
<circle cx="234.5" cy="610.5" r="1.38" fill="#000"/>
<circle cx="232.0" cy="701.35" r="1.2" fill="#000"/>
<circle cx="247.0" cy="701.35" r="1.2" fill="#000"/>
<circle cx="257.5" cy="701.35" r="1.2" fill="#000"/>
<circle cx="260.75" cy="701.35" r="1.2" fill="#000"/>
<circle cx="264.5" cy="701.35" r="1.2" fill="#000"/>
<circle cx="268.75" cy="701.35" r="1.2" fill="#000"/>
<circle cx="276.25" cy="701.35" r="1.2" fill="#000"/>
<circle cx="280.5" cy="701.35" r="1.2" fill="#000"/>
<circle cx="287.0" cy="701.35" r="1.2" fill="#000"/>
<circle cx="289.5" cy="701.35" r="1.2" fill="#000"/>
<text x="246.25" y="633.95" font-size="13.7" font-style="italic" fill="#231F20" textLength="63" lengthAdjust="spacingAndGlyphs" stroke="#231F20" stroke-width="0.18">P = 1.3E-06</text>
<line x1="342.5" y1="605.75" x2="342.5" y2="705.9499999999999" stroke="#262626" stroke-width="1.1" stroke-linecap="butt"/>
<line x1="341.95" y1="705.4" x2="515.6" y2="705.4" stroke="#262626" stroke-width="1.1" stroke-linecap="butt"/>
<line x1="339.7" y1="701.5" x2="342.5" y2="701.5" stroke="#262626" stroke-width="0.9" stroke-linecap="butt"/>
<text x="337.6" y="704.5" font-size="8.4" text-anchor="end" fill="#2b2b2b">0</text>
<line x1="339.7" y1="673.1" x2="342.5" y2="673.1" stroke="#262626" stroke-width="0.9" stroke-linecap="butt"/>
<text x="337.6" y="676.1" font-size="8.4" text-anchor="end" fill="#2b2b2b">2</text>
<line x1="339.7" y1="644.7" x2="342.5" y2="644.7" stroke="#262626" stroke-width="0.9" stroke-linecap="butt"/>
<text x="337.6" y="647.7" font-size="8.4" text-anchor="end" fill="#2b2b2b">4</text>
<line x1="339.7" y1="616.3" x2="342.5" y2="616.3" stroke="#262626" stroke-width="0.9" stroke-linecap="butt"/>
<text x="337.6" y="619.3" font-size="8.4" text-anchor="end" fill="#2b2b2b">6</text>
<line x1="389.9" y1="705.4" x2="389.9" y2="708.4" stroke="#262626" stroke-width="0.9" stroke-linecap="butt"/>
<text x="389.9" y="716.5" font-size="8.5" text-anchor="middle" fill="#2b2b2b">T01</text>
<line x1="468.2" y1="705.4" x2="468.2" y2="708.4" stroke="#262626" stroke-width="0.9" stroke-linecap="butt"/>
<text x="468.2" y="716.5" font-size="8.5" text-anchor="middle" fill="#2b2b2b">T01.R</text>
<text x="406.4" y="600.2" font-size="14.6" font-weight="bold" fill="#000" textLength="45.15" lengthAdjust="spacingAndGlyphs">SALL2</text>
<text x="408.75" y="732.7" font-size="11.7" font-weight="bold" fill="#97403A" textLength="40.6" lengthAdjust="spacingAndGlyphs">Identity</text>
<line x1="389.9" y1="634" x2="389.9" y2="671.5" stroke="#1c1c1c" stroke-width="0.8" stroke-linecap="butt"/>
<path d="M387.55,610.20 C387.51,611.10 387.56,613.92 387.30,615.60 C387.04,617.28 386.33,618.85 386.00,620.30 C385.67,621.75 385.15,622.85 385.30,624.30 C385.45,625.75 386.27,627.57 386.90,629.00 C387.53,630.43 388.62,631.87 389.10,632.90 C389.58,633.93 389.68,634.82 389.80,635.20 L390.00,635.20 C390.12,634.82 390.22,633.93 390.70,632.90 C391.18,631.87 392.27,630.43 392.90,629.00 C393.53,627.57 394.35,625.75 394.50,624.30 C394.65,622.85 394.13,621.75 393.80,620.30 C393.47,618.85 392.76,617.28 392.50,615.60 C392.24,613.92 392.29,611.10 392.25,610.20 Z" fill="#F47A70" fill-opacity="1" stroke="#141414" stroke-width="0.95" stroke-linejoin="round"/>
<path d="M389.80,670.30 C389.48,670.75 388.83,671.58 387.90,673.00 C386.97,674.42 385.43,676.78 384.20,678.80 C382.97,680.82 381.88,683.27 380.50,685.10 C379.12,686.93 378.12,688.37 375.90,689.80 C373.68,691.23 370.15,692.53 367.20,693.70 C364.25,694.87 360.28,695.92 358.20,696.80 C356.12,697.68 355.25,698.38 354.70,699.00 C354.15,699.62 354.28,700.08 354.90,700.50 C355.52,700.92 357.82,701.33 358.40,701.50 L421.40,701.50 C421.98,701.33 424.28,700.92 424.90,700.50 C425.52,700.08 425.65,699.62 425.10,699.00 C424.55,698.38 423.68,697.68 421.60,696.80 C419.52,695.92 415.55,694.87 412.60,693.70 C409.65,692.53 406.12,691.23 403.90,689.80 C401.68,688.37 400.68,686.93 399.30,685.10 C397.92,683.27 396.83,680.82 395.60,678.80 C394.37,676.78 392.83,674.42 391.90,673.00 C390.97,671.58 390.32,670.75 390.00,670.30 Z" fill="#F47A70" fill-opacity="1" stroke="#141414" stroke-width="0.95" stroke-linejoin="round"/>
<circle cx="383.34115805946794" cy="610.4851330203443" r="1.38" fill="#000"/>
<circle cx="394.76525821596243" cy="623.0046948356808" r="1.38" fill="#000"/>
<circle cx="416.67449139280126" cy="626.2910798122066" r="1.38" fill="#000"/>
<circle cx="379.74178403755866" cy="677.4647887323944" r="1.38" fill="#000"/>
<circle cx="382.5586854460094" cy="683.7245696400626" r="1.38" fill="#000"/>
<circle cx="359.0845070422535" cy="681.377151799687" r="1.38" fill="#000"/>
<circle cx="362.68388106416273" cy="688.4194053208138" r="1.38" fill="#000"/>
<circle cx="359.86697965571204" cy="690.2973395931142" r="1.38" fill="#000"/>
<circle cx="404.78090766823163" cy="688.1064162754303" r="1.38" fill="#000"/>
<circle cx="377.0813771517997" cy="695.7746478873239" r="1.38" fill="#000"/>
<circle cx="401.0250391236307" cy="694.3661971830986" r="1.38" fill="#000"/>
<circle cx="393.8262910798122" cy="697.8090766823161" r="1.38" fill="#000"/>
<circle cx="415.1095461658842" cy="695.9311424100157" r="1.38" fill="#000"/>
<circle cx="370.0391236306729" cy="699.3740219092332" r="1.38" fill="#000"/>
<circle cx="370.0391236306729" cy="700.9389671361503" r="1.38" fill="#000"/>
<circle cx="375.5164319248826" cy="700.9389671361503" r="1.38" fill="#000"/>
<circle cx="378.17683881064164" cy="699.3740219092332" r="1.38" fill="#000"/>
<circle cx="380.6807511737089" cy="700.6259780907668" r="1.38" fill="#000"/>
<circle cx="384.59311424100156" cy="700.9389671361503" r="1.38" fill="#000"/>
<circle cx="393.5133020344288" cy="700.6259780907668" r="1.38" fill="#000"/>
<circle cx="395.3912363067293" cy="700.9389671361503" r="1.38" fill="#000"/>
<circle cx="399.3035993740219" cy="700.9389671361503" r="1.38" fill="#000"/>
<circle cx="401.3380281690141" cy="699.3740219092332" r="1.38" fill="#000"/>
<circle cx="411.19718309859155" cy="700.1564945226917" r="1.38" fill="#000"/>
<circle cx="415.73552425665105" cy="699.6870109546167" r="1.38" fill="#000"/>
<circle cx="418.55242566510174" cy="700.9389671361503" r="1.38" fill="#000"/>
<line x1="432.9" y1="701.5" x2="504" y2="701.5" stroke="#1c1c1c" stroke-width="0.8" stroke-linecap="butt"/>
<line x1="468.2" y1="685.6" x2="468.2" y2="701.5" stroke="#1c1c1c" stroke-width="0.8" stroke-linecap="butt"/>
<line x1="464.9" y1="685.6" x2="471.8" y2="685.6" stroke="#1c1c1c" stroke-width="0.9" stroke-linecap="butt"/>
<path d="M464.59999999999997,697.6 C466.2,696 467.2,695.4 468.2,695.2 C469.2,695.4 470.2,696 471.8,697.6 C470.2,698.8 469.2,699.3 468.2,699.5 C467.2,699.3 466.2,698.8 464.59999999999997,697.6 Z" fill="#5EC6CF" stroke="#1c1c1c" stroke-width="0.6"/>
<circle cx="485.8" cy="685.6" r="1.38" fill="#000"/>
<circle cx="498.8" cy="696" r="1.38" fill="#000"/>
<circle cx="495.9" cy="698.6" r="1.38" fill="#000"/>
<circle cx="440.12968299711815" cy="701.5" r="1.2" fill="#000"/>
<circle cx="442.0028818443804" cy="701.5" r="1.2" fill="#000"/>
<circle cx="443.73198847262245" cy="701.5" r="1.2" fill="#000"/>
<circle cx="455.97982708933716" cy="701.5" r="1.2" fill="#000"/>
<circle cx="466.0662824207493" cy="701.5" r="1.2" fill="#000"/>
<circle cx="468.2276657060519" cy="701.5" r="1.2" fill="#000"/>
<circle cx="471.1095100864553" cy="701.5" r="1.2" fill="#000"/>
<circle cx="477.1613832853026" cy="701.5" r="1.2" fill="#000"/>
<circle cx="484.79827089337175" cy="701.5" r="1.2" fill="#000"/>
<circle cx="490.12968299711815" cy="701.5" r="1.2" fill="#000"/>
<circle cx="495.60518731988475" cy="701.5" r="1.2" fill="#000"/>
<text x="442" y="646.95" font-size="13.7" font-style="italic" fill="#231F20" textLength="63.75" lengthAdjust="spacingAndGlyphs" stroke="#231F20" stroke-width="0.18">P = 6.6E-03</text>
</g>
</svg>
</body></html>
